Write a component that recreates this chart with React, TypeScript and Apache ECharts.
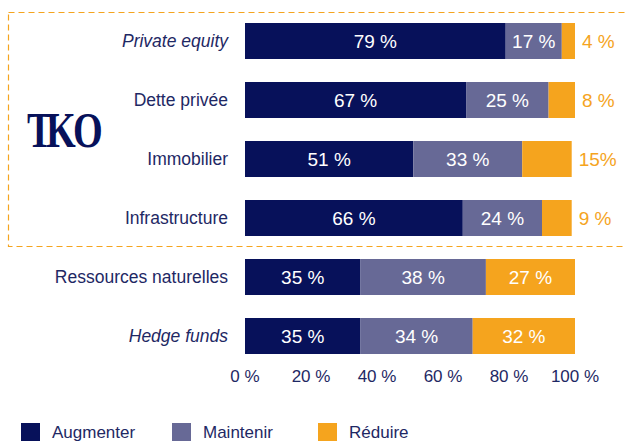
import React, { useEffect, useRef } from "react";
import * as echarts from "echarts";

const categories = [
  "Private equity",
  "Dette privée",
  "Immobilier",
  "Infrastructure",
  "Ressources naturelles",
  "Hedge funds",
];
const italicCats = ["Private equity", "Hedge funds"];
const augmenter = [79, 67, 51, 66, 35, 35];
const maintenir = [17, 25, 33, 24, 38, 34];
const reduire = [4, 8, 15, 9, 27, 32];
const reduireLabels = ["4 %", "8 %", "15%", "9 %", "27 %", "32 %"];
const outsideLabelRows = [0, 1, 2, 3];
const xTicks = [0, 20, 40, 60, 80, 100];

const NAVY = "#07115a";
const LAVENDER = "#676996";
const ORANGE = "#f5a41e";
const TEXT = "#1e2864";
const FONT = "'Liberation Sans', Arial, sans-serif";
const LOGO_FONT = "bold 51px 'Liberation Serif', serif";

export default function App() {
  const ref = useRef<HTMLDivElement>(null);
  useEffect(() => {
    if (!ref.current) return;
    const chart = echarts.init(ref.current, undefined, { renderer: "svg" });
    const innerLabel = {
      show: true,
      position: "inside",
      color: "#ffffff",
      fontSize: 19,
      fontFamily: FONT,
      formatter: (p: any) => `${p.value} %`,
    };
    const logoLetter = (ch: string, x: number) => ({
      type: "text",
      x,
      y: 130,
      scaleX: 0.75,
      silent: true,
      style: { text: ch, fill: NAVY, font: LOGO_FONT, verticalAlign: "middle" },
    });
    chart.setOption({
      animation: false,
      textStyle: { fontFamily: FONT },
      grid: { left: 245, right: 50, top: 11.5, height: 354, containLabel: false },
      xAxis: {
        type: "value",
        min: 0,
        max: 100,
        interval: 20,
        axisLine: { show: false },
        axisTick: { show: false },
        splitLine: { show: false },
        axisLabel: {
          color: TEXT,
          fontSize: 17,
          fontFamily: FONT,
          margin: 2,
          formatter: (v: number) => (xTicks.includes(v) ? `${v} %` : ""),
        },
      },
      yAxis: {
        type: "category",
        inverse: true,
        data: categories,
        axisLine: { show: false },
        axisTick: { show: false },
        axisLabel: {
          color: TEXT,
          fontSize: 17.5,
          fontFamily: FONT,
          margin: 17,
          formatter: (v: string) => (italicCats.includes(v) ? `{i|${v}}` : v),
          rich: { i: { fontStyle: "italic", color: TEXT, fontSize: 17.5, fontFamily: FONT } },
        },
      },
      legend: [
        { name: "Augmenter", left: 21 },
        { name: "Maintenir", left: 172 },
        { name: "Réduire", left: 318 },
      ].map((l) => ({
        data: [l.name],
        left: l.left,
        top: 423,
        padding: 0,
        icon: "rect",
        itemWidth: 19,
        itemHeight: 19,
        itemGap: 0,
        textStyle: { color: TEXT, fontSize: 17, fontFamily: FONT, padding: [0, 0, 0, 7] },
      })),
      series: [
        {
          name: "Augmenter",
          type: "bar",
          stack: "t",
          barWidth: 36,
          data: augmenter,
          itemStyle: { color: NAVY },
          label: innerLabel,
        },
        {
          name: "Maintenir",
          type: "bar",
          stack: "t",
          barWidth: 36,
          data: maintenir,
          itemStyle: { color: LAVENDER },
          label: innerLabel,
        },
        {
          name: "Réduire",
          type: "bar",
          stack: "t",
          barWidth: 36,
          itemStyle: { color: ORANGE },
          data: reduire.map((v, i) =>
            outsideLabelRows.includes(i)
              ? {
                  value: v,
                  label: {
                    show: true,
                    position: "right",
                    distance: 7,
                    color: ORANGE,
                    fontSize: 19,
                    fontFamily: FONT,
                    formatter: reduireLabels[i],
                  },
                }
              : {
                  value: v,
                  label: {
                    show: true,
                    position: "inside",
                    color: "#ffffff",
                    fontSize: 19,
                    fontFamily: FONT,
                    formatter: reduireLabels[i],
                  },
                }
          ),
        },
      ],
      graphic: [
        {
          type: "rect",
          silent: true,
          shape: { x: 8.5, y: 12.5, width: 700, height: 234 },
          style: { fill: "none", stroke: ORANGE, lineWidth: 1.2, lineDash: [6, 4] },
        },
        logoLetter("T", 27),
        logoLetter("K", 46),
        logoLetter("O", 73),
      ],
    });
    return () => chart.dispose();
  }, []);
  return <div ref={ref} style={{ width: 625, height: 441, position: "absolute", left: 0, top: 0 }} />;
}
